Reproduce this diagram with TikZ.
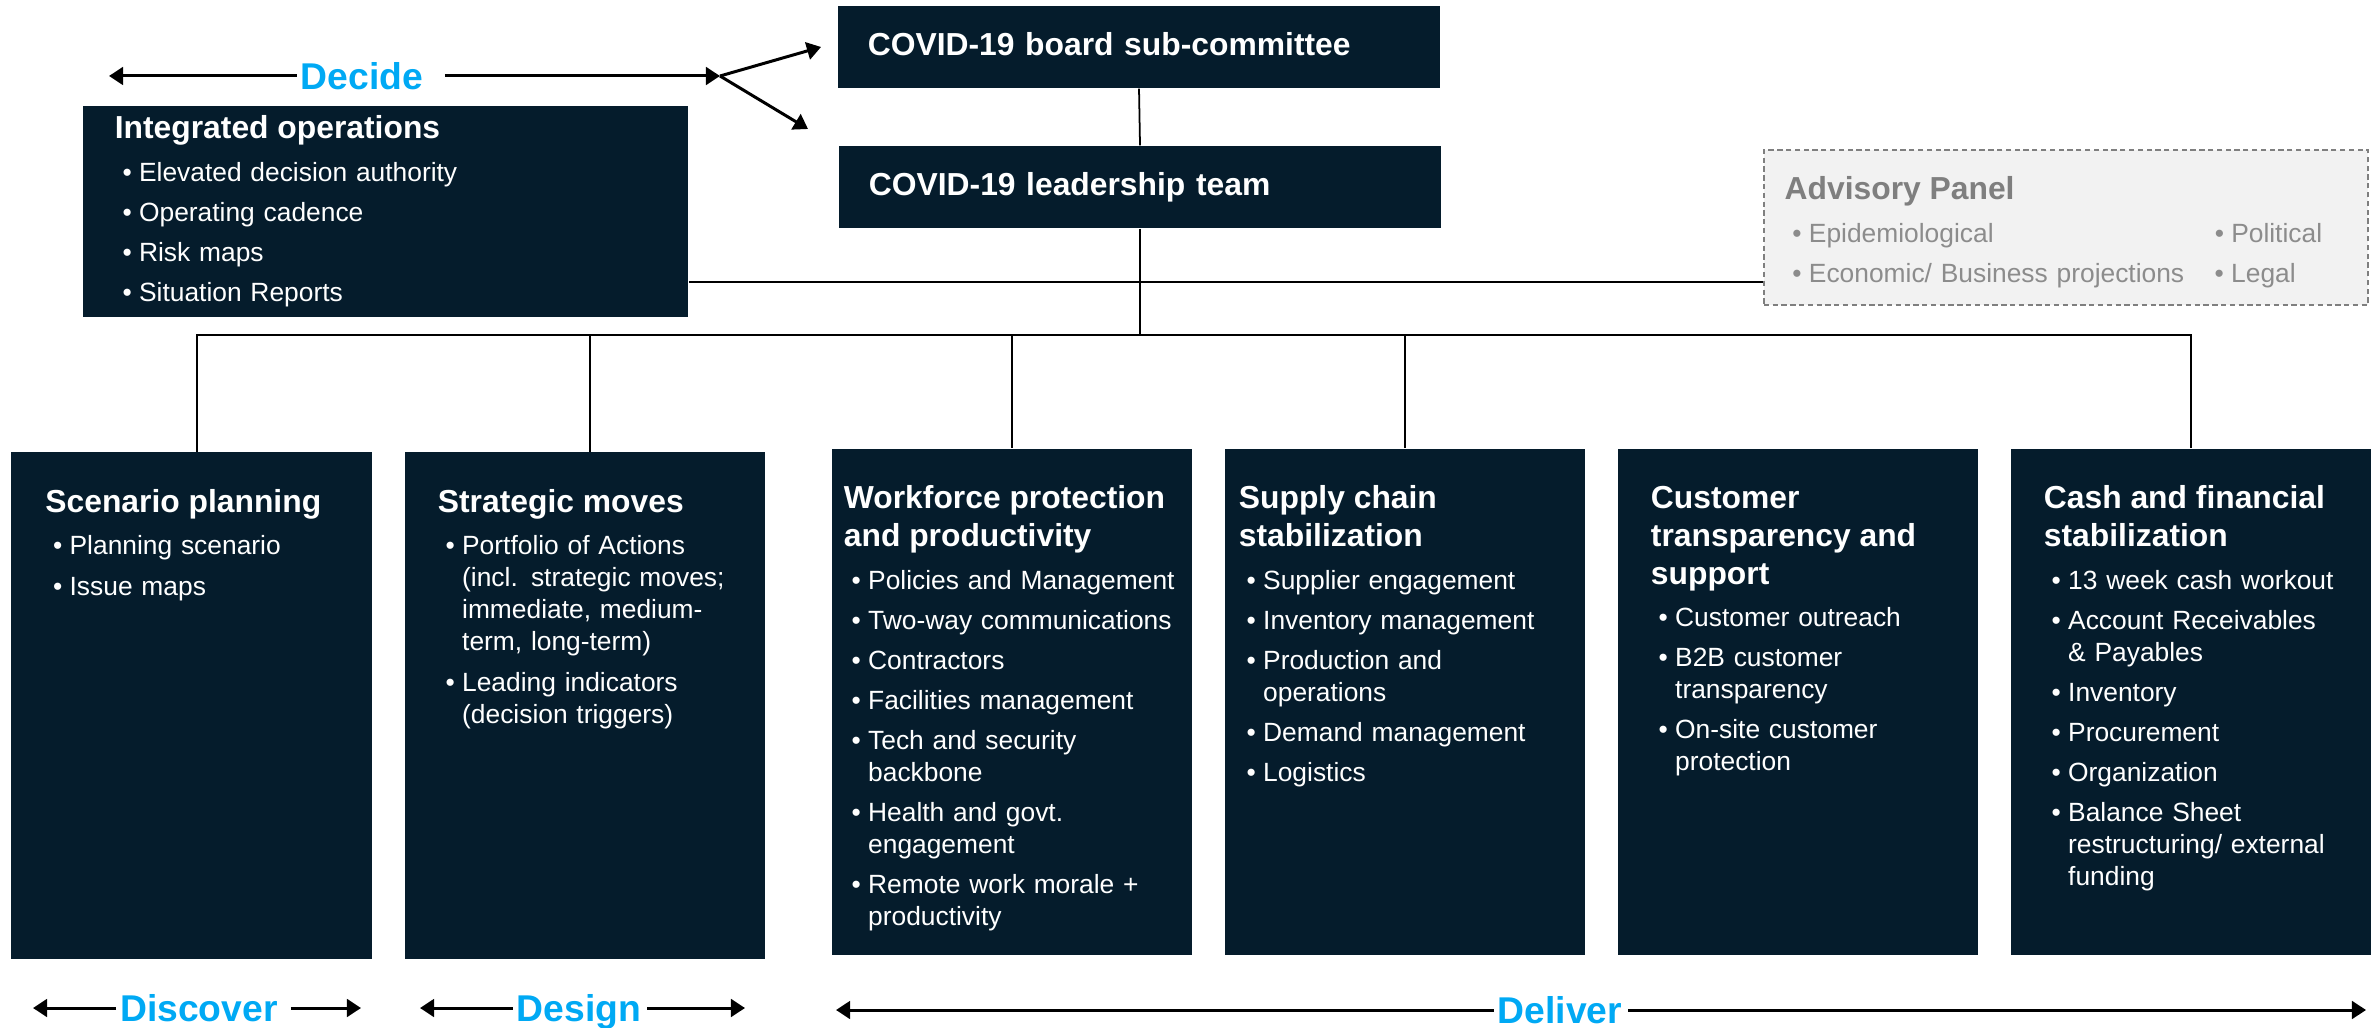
\documentclass[tikz,border=0pt]{standalone}
\usepackage{fontspec}
\setmainfont{Liberation Sans}
\usetikzlibrary{arrows.meta,calc}

\definecolor{navy}{HTML}{051C2C}
\definecolor{cyanlbl}{HTML}{00A9F4}
\definecolor{advgray}{HTML}{8C8C8C}
\definecolor{advtitle}{HTML}{7F7F7F}
\definecolor{advfill}{HTML}{F2F2F2}

\newlength{\bulw}
\setlength{\bulw}{6.9pt}
\newcommand{\bmark}{\makebox[\bulw][l]{\hspace{2.2pt}\textbullet}}
\newcommand{\bitem}[1]{\par\vspace{2.3pt}\hangindent=\bulw\hangafter=1\noindent\bmark#1\par}
\newcommand{\boxttl}[1]{{\fontsize{9.05pt}{10.8pt}\selectfont\bfseries#1\par}\vspace{0.7pt}}

\begin{document}
\begin{tikzpicture}[x=0.01cm,y=-0.01cm,
  panel/.style={fill=navy,inner sep=0pt},
  stage/.style={panel,minimum width=3.6cm,minimum height=5.06cm},
  hdr/.style={fill=navy,text=white,font=\fontsize{9.05pt}{10.8pt}\selectfont\bfseries,
    minimum height=0.82cm,text width=5.42cm,inner xsep=0.3cm,inner ysep=0pt,align=left,
    text height=6.6pt,text depth=1.9pt},
  txt/.style={anchor=north west,inner sep=0pt,text=white,text width=3.6cm,align=left,
    font=\fontsize{7.5pt}{9.1pt}\selectfont},
  phase/.style={text=cyanlbl,font=\fontsize{10.6pt}{12pt}\selectfont\bfseries,
    text height=7.6pt,text depth=0pt,inner xsep=1pt,inner ysep=0pt},
  conn/.style={line width=0.5pt},
  arr/.style={line width=0.85pt,-{Triangle[length=4pt,width=5pt]}}]
\useasboundingbox (0,0) rectangle (2380,1028);

% top of the structure
\node[hdr] (board) at (1139,47) {COVID-19 board sub-committee};
\node[hdr] (lead) at (1140,187) {COVID-19 leadership team};

\node[panel,minimum width=6.05cm,minimum height=2.11cm] (intops) at (385.5,211.5) {};
\node[txt,text width=5cm] (intopstxt) at ($(intops.north west)+(32,10)$) {\boxttl{Integrated operations}%
  \bitem{Elevated decision authority}\bitem{Operating cadence}\bitem{Risk maps}\bitem{Situation Reports}};

\node[draw=advtitle,dash pattern=on 1.5pt off 1pt,line width=0.5pt,fill=advfill,
  minimum width=6.04cm,minimum height=1.55cm,inner sep=0pt] (adv) at (2066,227.5) {};
\node[txt,text=advgray,text width=6cm] (advtxt) at ($(adv.north west)+(21,27)$) {\boxttl{\color{advtitle}Advisory Panel}%
  \bitem{\makebox[113.2pt][l]{Epidemiological}\bmark Political}%
  \bitem{\makebox[113.2pt][l]{Economic/ Business projections}\bmark Legal}};

% workstreams
\node[stage] (scen) at (191.5,705.5) {};
\node[stage] (strat) at (585,705.5) {};
\node[stage] (work) at (1012,702) {};
\node[stage] (supp) at (1405,702) {};
\node[stage] (cust) at (1798,702) {};
\node[stage] (cash) at (2191,702) {};

\node[txt] (scentxt) at ($(scen.north west)+(34,37)$) {\boxttl{Scenario planning}%
  \bitem{Planning scenario}\bitem{Issue maps}};
\node[txt] (strattxt) at ($(strat.north west)+(33,37)$) {\boxttl{Strategic moves}%
  \bitem{Portfolio of Actions\newline (incl. strategic moves;\newline immediate, medium-\newline term, long-term)}%
  \bitem{Leading indicators\newline (decision triggers)}};
\node[txt] (worktxt) at ($(work.north west)+(12,37)$) {\boxttl{Workforce protection\newline and productivity}%
  \bitem{Policies and Management}\bitem{Two-way communications}\bitem{Contractors}%
  \bitem{Facilities management}\bitem{Tech and security\newline backbone}%
  \bitem{Health and govt.\newline engagement}\bitem{Remote work morale +\newline productivity}};
\node[txt] (supptxt) at ($(supp.north west)+(14,37)$) {\boxttl{Supply chain\newline stabilization}%
  \bitem{Supplier engagement}\bitem{Inventory management}\bitem{Production and\newline operations}%
  \bitem{Demand management}\bitem{Logistics}};
\node[txt] (custtxt) at ($(cust.north west)+(33,37)$) {\boxttl{Customer\newline transparency and\newline support}%
  \bitem{Customer outreach}\bitem{B2B customer\newline transparency}\bitem{On-site customer\newline protection}};
\node[txt] (cashtxt) at ($(cash.north west)+(33,37)$) {\boxttl{Cash and financial\newline stabilization}%
  \bitem{13 week cash workout}\bitem{Account Receivables\newline \& Payables}\bitem{Inventory}%
  \bitem{Procurement}\bitem{Organization}\bitem{Balance Sheet\newline restructuring/ external\newline funding}};

% connectors
\coordinate (bus) at (1140,335);
\coordinate (advrow) at (0,282);
\draw[conn] (board.south) -- (lead.north);
\draw[conn] (lead.south) -- (bus);
\draw[conn] (intops.east |- advrow) -- (adv.west |- advrow);
\draw[conn] ([xshift=1.6pt]scen.north) |- (bus) -| (cash.north);
\draw[conn] ([xshift=1.4pt]strat.north) -- ([xshift=1.4pt]strat.north |- bus);
\foreach \n in {work,supp}
  \draw[conn] (\n.north) -- (\n.north |- bus);

% phases
\node[phase] (decide) at (362,76) {Decide};
\coordinate (decL) at (109,76);
\coordinate (decR) at (720,76);
\coordinate (decUp) at (821,47);
\coordinate (decDn) at (808,129);
\draw[arr] (decide.west) -- (decL);
\draw[arr] ([xshift=5pt]decide.east) -- (decR);
\draw[arr] (decR) -- (decUp);
\draw[arr] (decR) -- (decDn);

\foreach \nm/\lbl/\cx/\lx/\rx/\yy/\gap in {disc/Discover/199/33/361/1008/2.5pt,
    desg/Design/579/420/745/1008/0.5pt, dlvr/Deliver/1560/836/2366/1010/0.5pt}{
  \node[phase] (\nm) at (\cx,\yy) {\lbl};
  \coordinate (\nm-l) at (\lx,\yy);
  \coordinate (\nm-r) at (\rx,\yy);
  \draw[arr] (\nm.west) -- (\nm-l);
  \draw[arr] ([xshift=\gap]\nm.east) -- (\nm-r);
}
\end{tikzpicture}
\end{document}
